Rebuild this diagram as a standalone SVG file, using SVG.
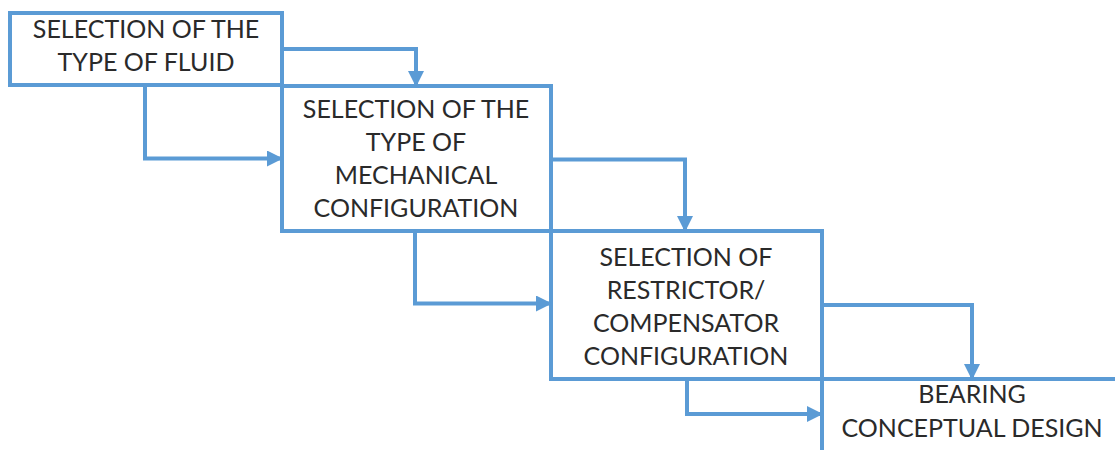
<svg xmlns="http://www.w3.org/2000/svg" width="1115" height="450" viewBox="0 0 1115 450">
<style>
.box{fill:#fff;stroke:#5B9BD5;stroke-width:4}
.con{fill:none;stroke:#5B9BD5;stroke-width:4}
text{font-family:Lato,"Open Sans","Liberation Sans",sans-serif;font-size:25px;fill:#2a2a2a;text-anchor:middle}
</style>
<defs>
<marker id="ah" markerUnits="userSpaceOnUse" markerWidth="16" markerHeight="16" viewBox="0 0 16 16" refX="15" refY="8" orient="auto">
<path d="M0,0 L16,8 L0,16 Z" fill="#5B9BD5"/>
</marker>
</defs>
<g id="n4"><rect class="box" x="822" y="379" width="310" height="90"/>
<text x="972" y="403">BEARING</text><text x="972" y="437">CONCEPTUAL DESIGN</text></g>
<g id="n3"><rect class="box" x="551" y="231" width="271" height="148"/>
<text x="686" y="266">SELECTION OF</text><text x="686" y="299">RESTRICTOR/</text><text x="686" y="332">COMPENSATOR</text><text x="686" y="365">CONFIGURATION</text></g>
<g id="n2"><rect class="box" x="282" y="86" width="269" height="145"/>
<text x="416" y="118">SELECTION OF THE</text><text x="416" y="151">TYPE OF</text><text x="416" y="184">MECHANICAL</text><text x="416" y="217">CONFIGURATION</text></g>
<g id="n1"><rect class="box" x="10" y="13" width="272" height="72"/>
<text x="146" y="38">SELECTION OF THE</text><text x="146" y="71">TYPE OF FLUID</text></g>
<g id="connectors">
<path class="con" d="M282,49 H416 V86" marker-end="url(#ah)"/>
<path class="con" d="M145,85 V158.5 H282" marker-end="url(#ah)"/>
<path class="con" d="M551,159.5 H685 V231" marker-end="url(#ah)"/>
<path class="con" d="M415,231 V303.5 H551" marker-end="url(#ah)"/>
<path class="con" d="M822,305 H972 V379" marker-end="url(#ah)"/>
<path class="con" d="M687,379 V414 H822" marker-end="url(#ah)"/>
</g>
</svg>
